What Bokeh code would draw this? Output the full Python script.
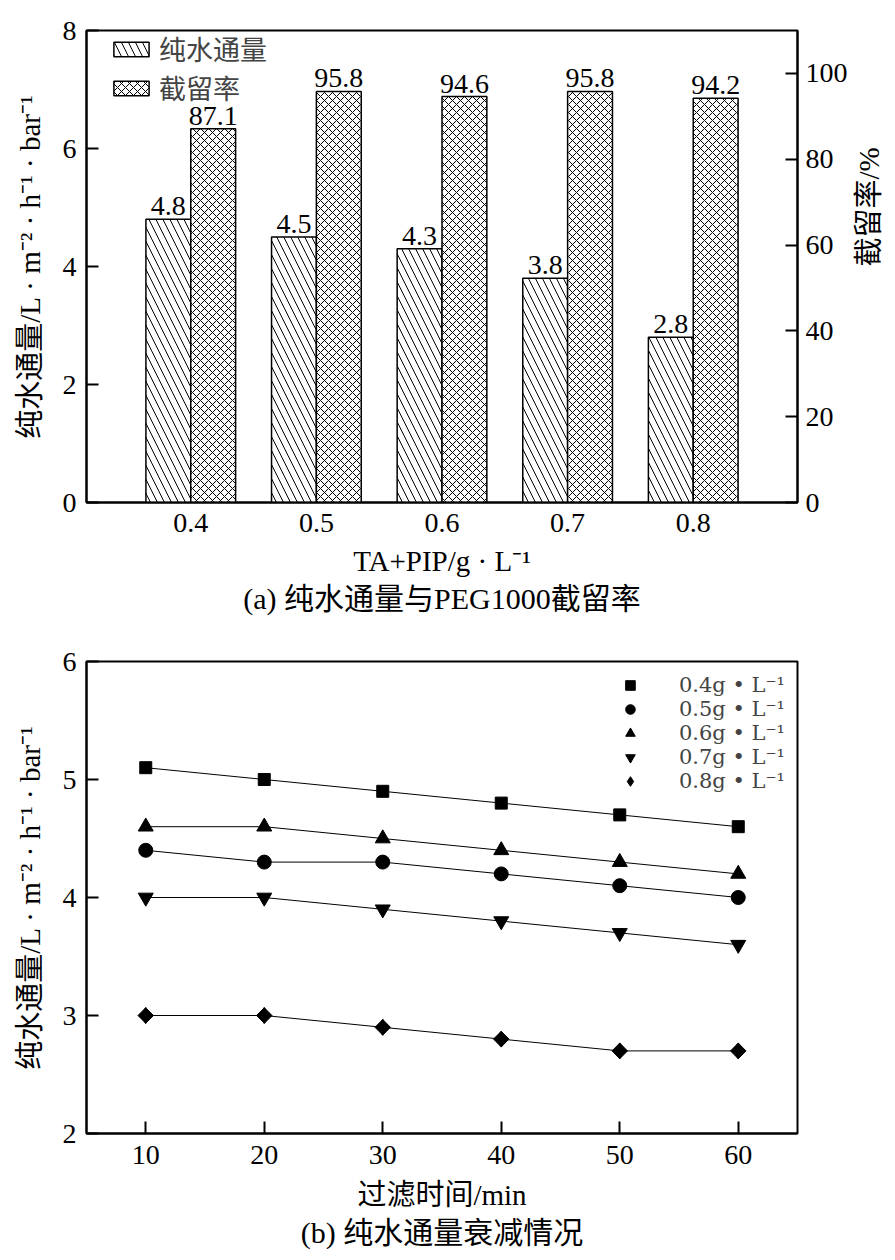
import math
from bokeh.plotting import figure
from bokeh.models import (Range1d, FactorRange, LinearAxis, FixedTicker, ColumnDataSource,
                          LabelSet, Legend, LegendItem, Title)
from bokeh.layouts import column
from bokeh.transform import dodge
from bokeh.embed import file_html
from bokeh.resources import INLINE

# ---------------- data ----------------
concentrations = ["0.4", "0.5", "0.6", "0.7", "0.8"]
flux = [4.8, 4.5, 4.3, 3.8, 2.8]
rejection = [87.1, 95.8, 94.6, 95.8, 94.2]

time_min = [10, 20, 30, 40, 50, 60]
flux_04 = [5.1, 5.0, 4.9, 4.8, 4.7, 4.6]
flux_05 = [4.4, 4.3, 4.3, 4.2, 4.1, 4.0]
flux_06 = [4.6, 4.6, 4.5, 4.4, 4.3, 4.2]
flux_07 = [4.0, 4.0, 3.9, 3.8, 3.7, 3.6]
flux_08 = [3.0, 3.0, 2.9, 2.8, 2.7, 2.7]
series_labels = ["0.4g • L⁻¹", "0.5g • L⁻¹", "0.6g • L⁻¹", "0.7g • L⁻¹", "0.8g • L⁻¹"]

FONT = "'Liberation Serif', 'Noto Sans CJK SC'"
TICK = "28px"
LAB = "29px"


def style_axis(ax):
    ax.axis_line_width = 2
    ax.axis_line_color = "black"
    ax.major_tick_line_width = 2
    ax.major_tick_in = 12
    ax.major_tick_out = 0
    ax.minor_tick_line_color = None
    ax.major_label_text_font = FONT
    ax.major_label_text_font_size = TICK
    ax.major_label_text_color = "black"
    ax.axis_label_text_font = FONT
    ax.axis_label_text_font_size = LAB
    ax.axis_label_text_font_style = "normal"
    ax.axis_label_text_color = "black"


# ---------------- panel (a) ----------------
src = ColumnDataSource(dict(cat=concentrations, flux=flux, rej=rejection,
                            flux_txt=[f"{v:.1f}" for v in flux],
                            rej_txt=[f"{v:.1f}" for v in rejection]))

p1 = figure(x_range=FactorRange(*concentrations, range_padding=0.33, range_padding_units="absolute"),
            y_range=Range1d(0, 8), frame_width=711, frame_height=472,
            min_border_left=86, min_border_right=91, min_border_top=30, min_border_bottom=126,
            output_backend="svg", toolbar_location=None)
p1.extra_y_ranges = {"rej": Range1d(0, 110)}
p1.grid.visible = False
p1.outline_line_color = "black"
p1.outline_line_width = 2
p1.background_fill_color = "white"
p1.border_fill_color = "white"

bw = 0.357
r_flux = p1.vbar(x=dodge("cat", -bw / 2, range=p1.x_range), top="flux", width=bw, source=src,
                 fill_color="white", line_color="black", line_width=1.5,
                 hatch_pattern="left_diagonal_line", hatch_scale=14, hatch_weight=1, hatch_color="black")
r_rej = p1.vbar(x=dodge("cat", bw / 2, range=p1.x_range), top="rej", width=bw, source=src,
                y_range_name="rej",
                fill_color="white", line_color="black", line_width=1.5,
                hatch_pattern="diagonal_cross", hatch_scale=8, hatch_weight=1, hatch_color="black")

p1.add_layout(LabelSet(x=dodge("cat", -bw / 2, range=p1.x_range), y="flux", text="flux_txt", source=src,
                       y_offset=4, text_align="center", text_baseline="alphabetic",
                       text_font=FONT, text_font_size="28px", text_color="black"))
p1.add_layout(LabelSet(x=dodge("cat", bw / 2, range=p1.x_range), y="rej", text="rej_txt", source=src,
                       y_range_name="rej",
                       y_offset=4, text_align="center", text_baseline="alphabetic",
                       text_font=FONT, text_font_size="28px", text_color="black"))

p1.yaxis.ticker = FixedTicker(ticks=[0, 2, 4, 6, 8])
p1.yaxis.axis_label = "纯水通量/L · m⁻² · h⁻¹ · bar⁻¹"
p1.xaxis.axis_label = "TA+PIP/g · L⁻¹"
for ax in p1.xaxis + p1.yaxis:
    style_axis(ax)
p1.xaxis.major_tick_line_color = None
p1.xaxis.major_label_standoff = 11
p1.xaxis.axis_label_standoff = 10
p1.yaxis.major_label_standoff = 10
p1.yaxis.axis_label_standoff = 14

rax = LinearAxis(y_range_name="rej", ticker=FixedTicker(ticks=[0, 20, 40, 60, 80, 100]),
                 axis_label="截留率/%")
style_axis(rax)
rax.major_label_standoff = 8
rax.axis_label_standoff = 18
rax.axis_label_orientation = math.pi / 2
p1.add_layout(rax, "right")

leg1 = Legend(items=[LegendItem(label="纯水通量", renderers=[r_flux]),
                     LegendItem(label="截留率", renderers=[r_rej])],
              location=(23, 395), padding=0, margin=0, spacing=0,
              glyph_width=44, glyph_height=18, label_standoff=6,
              label_text_font=FONT, label_text_font_size="27px",
              border_line_color=None, background_fill_alpha=0)
p1.add_layout(leg1)

cap1 = Title(text="(a) 纯水通量与PEG1000截留率", align="center", text_font=FONT,
             text_font_size="30px", text_font_style="normal", text_color="black", standoff=0)
p1.add_layout(cap1, "below")

# ---------------- panel (b) ----------------
p2 = figure(x_range=Range1d(5, 65), y_range=Range1d(2, 6), frame_width=711, frame_height=472,
            min_border_left=86, min_border_right=91, min_border_top=33, min_border_bottom=119,
            output_backend="svg", toolbar_location=None)
p2.grid.visible = False
p2.outline_line_color = "black"
p2.outline_line_width = 2

series = [flux_04, flux_05, flux_06, flux_07, flux_08]
markers = ["square", "circle", "triangle", "inverted_triangle", "square"]
angles = [0, 0, 0, 0, math.pi / 4]
sizes = [12, 14, 15, 15, 11]
legend_markers = ["square", "circle", "triangle", "inverted_triangle", "diamond"]
legend_sizes = [12, 14, 15, 15, 16]
items = []
for ys, mk, ang, sz, lmk, lsz, lab in zip(series, markers, angles, sizes,
                                           legend_markers, legend_sizes, series_labels):
    s = ColumnDataSource(dict(t=time_min, v=ys))
    p2.line("t", "v", source=s, line_color="black", line_width=1)
    if lmk != mk:
        # diamond drawn underneath (fully covered) so the legend shows a diamond
        r = p2.scatter("t", "v", source=s, marker=lmk, size=lsz,
                       fill_color="black", line_color="black")
        p2.scatter("t", "v", source=s, marker=mk, angle=ang, size=sz,
                   fill_color="black", line_color="black")
    else:
        r = p2.scatter("t", "v", source=s, marker=mk, angle=ang, size=sz,
                       fill_color="black", line_color="black")
    items.append(LegendItem(label=lab, renderers=[r]))

p2.xaxis.ticker = FixedTicker(ticks=time_min)
p2.yaxis.ticker = FixedTicker(ticks=[2, 3, 4, 5, 6])
p2.xaxis.axis_label = "过滤时间/min"
p2.yaxis.axis_label = "纯水通量/L · m⁻² · h⁻¹ · bar⁻¹"
for ax in p2.xaxis + p2.yaxis:
    style_axis(ax)
p2.xaxis.major_label_standoff = 12
p2.xaxis.axis_label_standoff = 12
p2.yaxis.major_label_standoff = 10
p2.yaxis.axis_label_standoff = 14

leg2 = Legend(items=items, location="top_right", padding=0, margin=12, spacing=0,
              glyph_width=30, glyph_height=24, label_height=20, label_standoff=34,
              label_text_font="'DejaVu Serif'", label_text_font_size="21px",
              border_line_color=None, background_fill_alpha=0)
p2.add_layout(leg2)

cap2 = Title(text="(b) 纯水通量衰减情况", align="center", text_font=FONT,
             text_font_size="30px", text_font_style="normal", text_color="black", standoff=1)
p2.add_layout(cap2, "below")

layout = column(p1, p2, spacing=0)
open("out.html", "w").write(file_html(layout, INLINE))
